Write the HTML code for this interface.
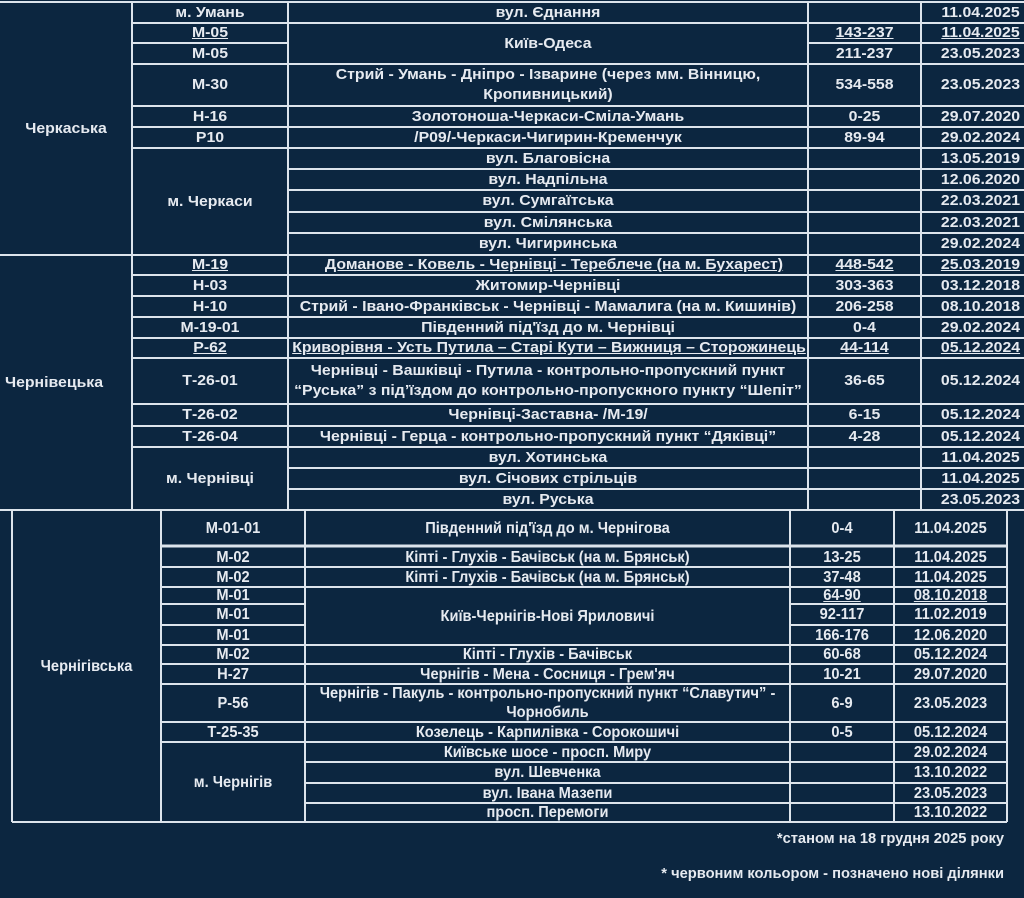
<!DOCTYPE html>
<html><head><meta charset="utf-8">
<style>
html,body{margin:0;padding:0;background:#0c2640;}
#w{position:relative;width:1024px;height:898px;overflow:hidden;background:#0c2640;font-family:"Liberation Sans",Arial,sans-serif;font-weight:bold;color:#e6eaf0;}
svg{position:absolute;left:0;top:0;}
.c{position:absolute;display:flex;align-items:center;justify-content:center;text-align:center;white-space:nowrap;line-height:20px;font-size:15px;transform:scaleX(1.055);}
.b .c{font-size:16px;line-height:19px;transform:scaleX(0.915);}
.u{text-decoration:underline;}
.f{position:absolute;right:20px;font-size:14.7px;white-space:nowrap;}
</style></head><body>
<div id="w">
<svg width="1024" height="898">
<path fill="none" stroke="#dde4ec" stroke-width="2" d="
M0 2H1024 M132 23H1024 M132 43H288 M808 43H1024
M132 64H1024 M132 106H1024 M132 127H1024 M132 148H1024
M288 169H1024 M288 190H1024 M288 212H1024 M288 233H1024
M0 255H1024
M132 275H1024 M132 296H1024 M132 317H1024 M132 338H1024 M132 358H1024 M132 404H1024 M132 426H1024 M132 447H1024
M288 468H1024 M288 489H1024
M0 510H1024
M132 2V510 M288 2V510 M808 2V510 M921 2V510
M12 510V822 M161 510V822 M305 510V822 M790 510V822 M894 510V822 M1007 510V822
M161 567H1007 M161 587H1007
M161 604H305 M790 604H1007 M161 625H305 M790 625H1007
M161 645H1007 M161 664H1007 M161 684H1007 M161 722H1007 M161 742H1007
M305 762H1007 M305 783H1007 M305 803H1007
M12 822H1007"/>
<path fill="none" stroke="#dde4ec" stroke-width="3" d="M161 546H1007"/>
</svg>

<!-- Черкаська -->
<div class="c" style="left:0;top:2px;width:132px;height:253px">Черкаська</div>
<div class="c" style="left:132px;top:2px;width:156px;height:21px">м. Умань</div>
<div class="c" style="left:288px;top:2px;width:520px;height:21px">вул. Єднання</div>
<div class="c" style="left:921px;top:2px;width:119px;height:21px">11.04.2025</div>

<div class="c u" style="left:132px;top:23px;width:156px;height:20px">М-05</div>
<div class="c" style="left:288px;top:23px;width:520px;height:41px">Київ-Одеса</div>
<div class="c u" style="left:808px;top:23px;width:113px;height:20px">143-237</div>
<div class="c u" style="left:921px;top:23px;width:119px;height:20px">11.04.2025</div>

<div class="c" style="left:132px;top:43px;width:156px;height:21px">М-05</div>
<div class="c" style="left:808px;top:43px;width:113px;height:21px">211-237</div>
<div class="c" style="left:921px;top:43px;width:119px;height:21px">23.05.2023</div>

<div class="c" style="left:132px;top:64px;width:156px;height:42px">М-30</div>
<div class="c" style="left:288px;top:64px;width:520px;height:42px">Стрий - Умань - Дніпро - Ізварине (через мм. Вінницю,<br>Кропивницький)</div>
<div class="c" style="left:808px;top:64px;width:113px;height:42px">534-558</div>
<div class="c" style="left:921px;top:64px;width:119px;height:42px">23.05.2023</div>

<div class="c" style="left:132px;top:106px;width:156px;height:21px">Н-16</div>
<div class="c" style="left:288px;top:106px;width:520px;height:21px">Золотоноша-Черкаси-Сміла-Умань</div>
<div class="c" style="left:808px;top:106px;width:113px;height:21px">0-25</div>
<div class="c" style="left:921px;top:106px;width:119px;height:21px">29.07.2020</div>

<div class="c" style="left:132px;top:127px;width:156px;height:21px">Р10</div>
<div class="c" style="left:288px;top:127px;width:520px;height:21px">/Р09/-Черкаси-Чигирин-Кременчук</div>
<div class="c" style="left:808px;top:127px;width:113px;height:21px">89-94</div>
<div class="c" style="left:921px;top:127px;width:119px;height:21px">29.02.2024</div>

<div class="c" style="left:132px;top:148px;width:156px;height:107px">м. Черкаси</div>
<div class="c" style="left:288px;top:148px;width:520px;height:21px">вул. Благовісна</div>
<div class="c" style="left:921px;top:148px;width:119px;height:21px">13.05.2019</div>
<div class="c" style="left:288px;top:169px;width:520px;height:21px">вул. Надпільна</div>
<div class="c" style="left:921px;top:169px;width:119px;height:21px">12.06.2020</div>
<div class="c" style="left:288px;top:190px;width:520px;height:22px">вул. Сумгаїтська</div>
<div class="c" style="left:921px;top:190px;width:119px;height:22px">22.03.2021</div>
<div class="c" style="left:288px;top:212px;width:520px;height:21px">вул. Смілянська</div>
<div class="c" style="left:921px;top:212px;width:119px;height:21px">22.03.2021</div>
<div class="c" style="left:288px;top:233px;width:520px;height:22px">вул. Чигиринська</div>
<div class="c" style="left:921px;top:233px;width:119px;height:22px">29.02.2024</div>

<!-- Чернівецька -->
<div class="c" style="left:0;top:255px;width:108px;height:255px">Чернівецька</div>
<div class="c u" style="left:132px;top:255px;width:156px;height:20px">М-19</div>
<div class="c u" style="left:300px;top:255px;width:508px;height:20px">Доманове - Ковель - Чернівці - Тереблече (на м. Бухарест)</div>
<div class="c u" style="left:808px;top:255px;width:113px;height:20px">448-542</div>
<div class="c u" style="left:921px;top:255px;width:119px;height:20px">25.03.2019</div>

<div class="c" style="left:132px;top:275px;width:156px;height:21px">Н-03</div>
<div class="c" style="left:288px;top:275px;width:520px;height:21px">Житомир-Чернівці</div>
<div class="c" style="left:808px;top:275px;width:113px;height:21px">303-363</div>
<div class="c" style="left:921px;top:275px;width:119px;height:21px">03.12.2018</div>

<div class="c" style="left:132px;top:296px;width:156px;height:21px">Н-10</div>
<div class="c" style="left:288px;top:296px;width:520px;height:21px">Стрий - Івано-Франківськ - Чернівці - Мамалига (на м. Кишинів)</div>
<div class="c" style="left:808px;top:296px;width:113px;height:21px">206-258</div>
<div class="c" style="left:921px;top:296px;width:119px;height:21px">08.10.2018</div>

<div class="c" style="left:132px;top:317px;width:156px;height:21px">М-19-01</div>
<div class="c" style="left:288px;top:317px;width:520px;height:21px">Південний під'їзд до м. Чернівці</div>
<div class="c" style="left:808px;top:317px;width:113px;height:21px">0-4</div>
<div class="c" style="left:921px;top:317px;width:119px;height:21px">29.02.2024</div>

<div class="c u" style="left:132px;top:338px;width:156px;height:20px">Р-62</div>
<div class="c u" style="left:290px;top:338px;width:518px;height:20px">Криворівня - Усть Путила – Старі Кути – Вижниця – Сторожинець</div>
<div class="c u" style="left:808px;top:338px;width:113px;height:20px">44-114</div>
<div class="c u" style="left:921px;top:338px;width:119px;height:20px">05.12.2024</div>

<div class="c" style="left:132px;top:358px;width:156px;height:46px">Т-26-01</div>
<div class="c" style="left:288px;top:358px;width:520px;height:46px">Чернівці - Вашківці - Путила - контрольно-пропускний пункт<br>“Руська” з під’їздом до контрольно-пропускного пункту “Шепіт”</div>
<div class="c" style="left:808px;top:358px;width:113px;height:46px">36-65</div>
<div class="c" style="left:921px;top:358px;width:119px;height:46px">05.12.2024</div>

<div class="c" style="left:132px;top:404px;width:156px;height:22px">Т-26-02</div>
<div class="c" style="left:288px;top:404px;width:520px;height:22px">Чернівці-Заставна- /М-19/</div>
<div class="c" style="left:808px;top:404px;width:113px;height:22px">6-15</div>
<div class="c" style="left:921px;top:404px;width:119px;height:22px">05.12.2024</div>

<div class="c" style="left:132px;top:426px;width:156px;height:21px">Т-26-04</div>
<div class="c" style="left:288px;top:426px;width:520px;height:21px">Чернівці - Герца - контрольно-пропускний пункт “Дяківці”</div>
<div class="c" style="left:808px;top:426px;width:113px;height:21px">4-28</div>
<div class="c" style="left:921px;top:426px;width:119px;height:21px">05.12.2024</div>

<div class="c" style="left:132px;top:447px;width:156px;height:63px">м. Чернівці</div>
<div class="c" style="left:288px;top:447px;width:520px;height:21px">вул. Хотинська</div>
<div class="c" style="left:921px;top:447px;width:119px;height:21px">11.04.2025</div>
<div class="c" style="left:288px;top:468px;width:520px;height:21px">вул. Січових стрільців</div>
<div class="c" style="left:921px;top:468px;width:119px;height:21px">11.04.2025</div>
<div class="c" style="left:288px;top:489px;width:520px;height:21px">вул. Руська</div>
<div class="c" style="left:921px;top:489px;width:119px;height:21px">23.05.2023</div>

<!-- Чернігівська -->
<div class="b">
<div class="c" style="left:12px;top:511px;width:149px;height:311px">Чернігівська</div>

<div class="c" style="left:161px;top:511px;width:144px;height:35px">М-01-01</div>
<div class="c" style="left:305px;top:511px;width:485px;height:35px">Південний під'їзд до м. Чернігова</div>
<div class="c" style="left:790px;top:511px;width:104px;height:35px">0-4</div>
<div class="c" style="left:894px;top:511px;width:113px;height:35px">11.04.2025</div>

<div class="c" style="left:161px;top:547px;width:144px;height:20px">М-02</div>
<div class="c" style="left:305px;top:547px;width:485px;height:20px">Кіпті - Глухів - Бачівськ (на м. Брянськ)</div>
<div class="c" style="left:790px;top:547px;width:104px;height:20px">13-25</div>
<div class="c" style="left:894px;top:547px;width:113px;height:20px">11.04.2025</div>

<div class="c" style="left:161px;top:567px;width:144px;height:20px">М-02</div>
<div class="c" style="left:305px;top:567px;width:485px;height:20px">Кіпті - Глухів - Бачівськ (на м. Брянськ)</div>
<div class="c" style="left:790px;top:567px;width:104px;height:20px">37-48</div>
<div class="c" style="left:894px;top:567px;width:113px;height:20px">11.04.2025</div>

<div class="c" style="left:161px;top:587px;width:144px;height:17px">М-01</div>
<div class="c" style="left:305px;top:587px;width:485px;height:58px">Київ-Чернігів-Нові Яриловичі</div>
<div class="c u" style="left:790px;top:587px;width:104px;height:17px">64-90</div>
<div class="c u" style="left:894px;top:587px;width:113px;height:17px">08.10.2018</div>

<div class="c" style="left:161px;top:604px;width:144px;height:21px">М-01</div>
<div class="c" style="left:790px;top:604px;width:104px;height:21px">92-117</div>
<div class="c" style="left:894px;top:604px;width:113px;height:21px">11.02.2019</div>

<div class="c" style="left:161px;top:625px;width:144px;height:20px">М-01</div>
<div class="c" style="left:790px;top:625px;width:104px;height:20px">166-176</div>
<div class="c" style="left:894px;top:625px;width:113px;height:20px">12.06.2020</div>

<div class="c" style="left:161px;top:645px;width:144px;height:19px">М-02</div>
<div class="c" style="left:305px;top:645px;width:485px;height:19px">Кіпті - Глухів - Бачівськ</div>
<div class="c" style="left:790px;top:645px;width:104px;height:19px">60-68</div>
<div class="c" style="left:894px;top:645px;width:113px;height:19px">05.12.2024</div>

<div class="c" style="left:161px;top:664px;width:144px;height:20px">Н-27</div>
<div class="c" style="left:305px;top:664px;width:485px;height:20px">Чернігів - Мена - Сосниця - Грем'яч</div>
<div class="c" style="left:790px;top:664px;width:104px;height:20px">10-21</div>
<div class="c" style="left:894px;top:664px;width:113px;height:20px">29.07.2020</div>

<div class="c" style="left:161px;top:684px;width:144px;height:38px">Р-56</div>
<div class="c" style="left:305px;top:684px;width:485px;height:38px">Чернігів - Пакуль - контрольно-пропускний пункт “Славутич” -<br>Чорнобиль</div>
<div class="c" style="left:790px;top:684px;width:104px;height:38px">6-9</div>
<div class="c" style="left:894px;top:684px;width:113px;height:38px">23.05.2023</div>

<div class="c" style="left:161px;top:722px;width:144px;height:20px">Т-25-35</div>
<div class="c" style="left:305px;top:722px;width:485px;height:20px">Козелець - Карпилівка - Сорокошичі</div>
<div class="c" style="left:790px;top:722px;width:104px;height:20px">0-5</div>
<div class="c" style="left:894px;top:722px;width:113px;height:20px">05.12.2024</div>

<div class="c" style="left:161px;top:742px;width:144px;height:80px">м. Чернігів</div>
<div class="c" style="left:305px;top:742px;width:485px;height:20px">Київське шосе - просп. Миру</div>
<div class="c" style="left:894px;top:742px;width:113px;height:20px">29.02.2024</div>
<div class="c" style="left:305px;top:762px;width:485px;height:21px">вул. Шевченка</div>
<div class="c" style="left:894px;top:762px;width:113px;height:21px">13.10.2022</div>
<div class="c" style="left:305px;top:783px;width:485px;height:20px">вул. Івана Мазепи</div>
<div class="c" style="left:894px;top:783px;width:113px;height:20px">23.05.2023</div>
<div class="c" style="left:305px;top:803px;width:485px;height:19px">просп. Перемоги</div>
<div class="c" style="left:894px;top:803px;width:113px;height:19px">13.10.2022</div>
</div>

<div class="f" style="top:831px">*станом на 18 грудня 2025 року</div>
<div class="f" style="top:866px">* червоним кольором - позначено нові ділянки</div>
</div>
</body></html>
